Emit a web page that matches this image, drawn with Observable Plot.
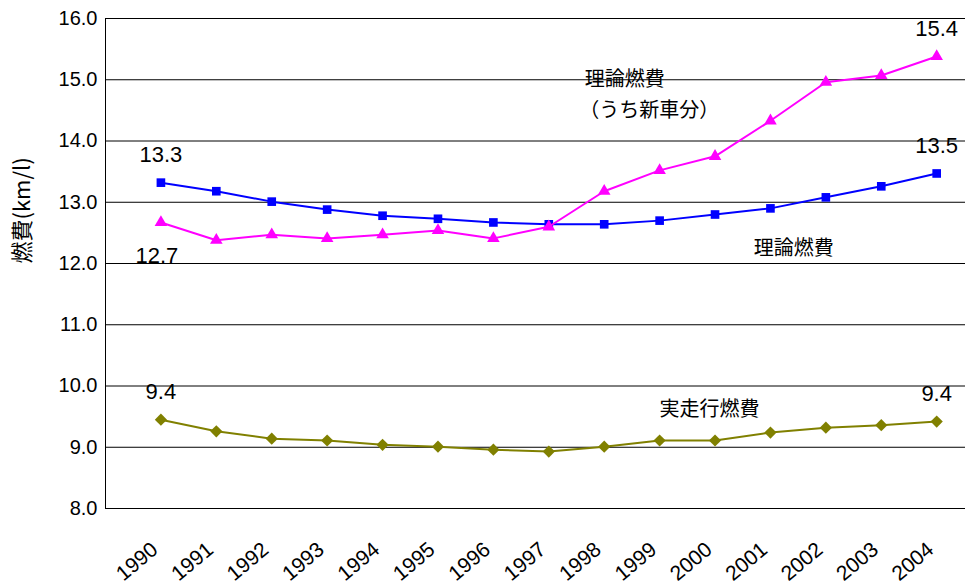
<!DOCTYPE html>
<html><head><meta charset="utf-8">
<script src="https://cdn.jsdelivr.net/npm/d3@7"></script>
<script src="https://cdn.jsdelivr.net/npm/@observablehq/plot@0.6"></script>
<style>body{margin:0;background:#fff}</style>
</head><body><div id="chart"></div>
<script>
const years = [1990,1991,1992,1993,1994,1995,1996,1997,1998,1999,2000,2001,2002,2003,2004];
const theoryAll = [13.32,13.18,13.01,12.88,12.78,12.73,12.67,12.64,12.64,12.70,12.80,12.90,13.08,13.26,13.47];
const theoryNew = [12.67,12.38,12.47,12.41,12.47,12.54,12.41,12.60,13.18,13.52,13.75,14.33,14.96,15.07,15.38];
const actual = [9.45,9.26,9.14,9.11,9.04,9.01,8.96,8.93,9.01,9.11,9.11,9.24,9.32,9.36,9.42];
const yTicks = [8,9,10,11,12,13,14,15,16];

const rows = (vals) => years.map((y, i) => ({year: y, v: vals[i]}));
const labelsAbove = [
  {year: 1990, v: 13.32, text: "13.3"},
  {year: 2004, v: 15.38, text: "15.4"},
  {year: 2004, v: 13.47, text: "13.5"},
  {year: 1990, v: 9.45, text: "9.4"},
  {year: 2004, v: 9.42, text: "9.4"}
];
const labelsBelow = [{year: 1990, v: 12.67, text: "12.7"}];
const seriesLabels = [
  {year: 1997.65, v: 15.0, text: "理論燃費"},
  {year: 1997.55, v: 14.5, text: "（うち新車分）"},
  {year: 2000.7, v: 12.25, text: "理論燃費"},
  {year: 1999.0, v: 9.62, text: "実走行燃費"}
];
const font = "'Liberation Sans', 'Noto Sans CJK JP', sans-serif";

const chart = Plot.plot({
  width: 965, height: 585,
  marginLeft: 105, marginRight: 0, marginTop: 18, marginBottom: 77,
  style: {fontFamily: font, fontSize: "20px", color: "#000", background: "#fff"},
  x: {domain: [1989, 2004.52], axis: null},
  y: {domain: [8, 16]},
  marks: [
    Plot.ruleY(yTicks, {stroke: "#000", strokeWidth: 1}),
    Plot.ruleX([1989], {stroke: "#000", strokeWidth: 1}),
    Plot.axisY({ticks: yTicks, tickFormat: d => d.toFixed(1), tickSize: 0, tickPadding: 8, fontSize: 20, label: null}),
    Plot.text(["燃費(km/l)"], {frameAnchor: "left", dx: -83, rotate: -90, fontSize: 22, fontFamily: "'Noto Sans CJK JP', sans-serif"}),
    Plot.text(years, {x: d => d, y: 8, text: d => String(d), rotate: -40, textAnchor: "end", dx: -6, dy: 38, fontSize: 21}),
    Plot.line(rows(actual), {x: "year", y: "v", stroke: "#808000", strokeWidth: 2}),
    Plot.dot(rows(actual), {x: "year", y: "v", symbol: "diamond2", fill: "#808000", r: 5.5}),
    Plot.line(rows(theoryAll), {x: "year", y: "v", stroke: "#0000ff", strokeWidth: 2}),
    Plot.dot(rows(theoryAll), {x: "year", y: "v", symbol: "square2", fill: "#0000ff", r: 5.5}),
    Plot.line(rows(theoryNew), {x: "year", y: "v", stroke: "#ff00ff", strokeWidth: 2}),
    Plot.dot(rows(theoryNew), {x: "year", y: "v", symbol: "triangle2", fill: "#ff00ff", r: 6}),
    Plot.text(labelsAbove, {x: "year", y: "v", text: "text", dy: -28, fontSize: 22}),
    Plot.text(labelsBelow, {x: "year", y: "v", text: "text", dy: 33, dx: -4, fontSize: 22}),
    Plot.text(seriesLabels, {x: "year", y: "v", text: "text", textAnchor: "start", fontSize: 20, fontFamily: "'Noto Sans CJK JP', sans-serif"})
  ]
});
document.getElementById("chart").appendChild(chart);
</script></body></html>
